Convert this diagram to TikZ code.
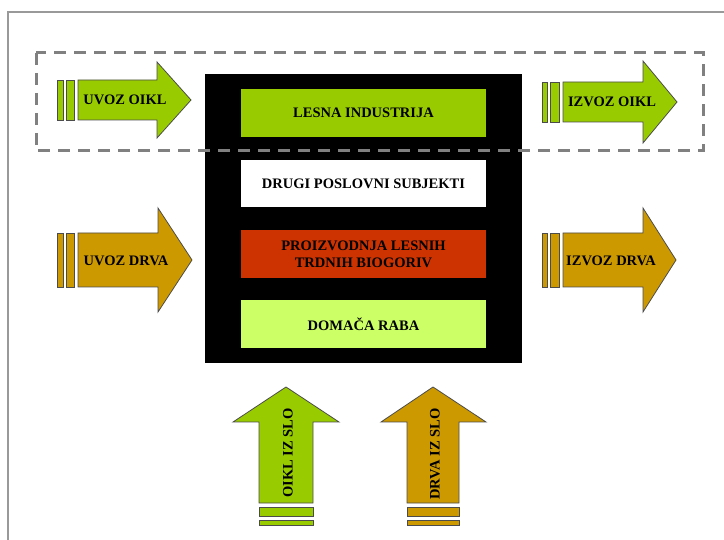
\documentclass[tikz,border=0pt]{standalone}
\usepackage{fontspec}
\setmainfont{Liberation Serif}
\definecolor{oikl}{HTML}{99CC00}
\definecolor{drva}{HTML}{CC9900}
\definecolor{rdeca}{HTML}{CC3300}
\definecolor{svetla}{HTML}{CCFF66}
\definecolor{okvir}{HTML}{808080}
\tikzset{
  arrowshape/.style={draw=black!70, line width=0.8pt},
  lbl/.style={font=\bfseries\fontsize{14.5}{16}\selectfont, text=black, inner sep=0pt},
  boxlbl/.style={font=\bfseries\fontsize{14.5}{17}\selectfont, text=black, inner sep=0pt, align=center},
  inbox/.style={draw=none},
}
\begin{document}
\begin{tikzpicture}[x=1pt, y=-1pt]
\useasboundingbox (0,0) rectangle (724,540);
% outer frame
\draw[black!40, line width=2pt] (8,540) -- (8,12) -- (724,12);

% central black box
\fill[black] (205,74) rectangle (522,363);
\fill[oikl]   (241,89)  rectangle (486,137);
\fill[white]  (241,160) rectangle (486,207);
\fill[rdeca]  (241,230) rectangle (486,278);
\fill[svetla] (241,300) rectangle (486,348);
\node[boxlbl] (lesna)  at (363.5,113) {LESNA INDUSTRIJA};
\node[boxlbl] (drugi)  at (363.5,184) {DRUGI POSLOVNI SUBJEKTI};
\node[boxlbl] (proiz)  at (363.5,254) {PROIZVODNJA LESNIH\\TRDNIH BIOGORIV};
\node[boxlbl] (domaca) at (363.5,324) {DOMAČA RABA};

% UVOZ OIKL (left, green)
\filldraw[arrowshape, fill=oikl] (57,80) rectangle (63,120);
\filldraw[arrowshape, fill=oikl] (66,80) rectangle (74,120);
\filldraw[arrowshape, fill=oikl] (78,80) -- (157,80) -- (157,62) -- (191,100) -- (157,138) -- (157,120) -- (78,120) -- cycle;
\node[lbl] (uvozoikl) at (125,100) {UVOZ OIKL};

% UVOZ DRVA (left, brown)
\filldraw[arrowshape, fill=drva] (57,233) rectangle (63,287);
\filldraw[arrowshape, fill=drva] (66,233) rectangle (74,287);
\filldraw[arrowshape, fill=drva] (78,233) -- (158,233) -- (158,208) -- (192,260) -- (158,312) -- (158,287) -- (78,287) -- cycle;
\node[lbl] (uvozdrva) at (126,261) {UVOZ DRVA};

% IZVOZ OIKL (right, green)
\filldraw[arrowshape, fill=oikl] (542,82) rectangle (547,122);
\filldraw[arrowshape, fill=oikl] (550,82) rectangle (559,122);
\filldraw[arrowshape, fill=oikl] (563,82) -- (643,82) -- (643,61) -- (677,102) -- (643,143) -- (643,122) -- (563,122) -- cycle;
\node[lbl] (izvozoikl) at (612,102) {IZVOZ OIKL};

% IZVOZ DRVA (right, brown)
\filldraw[arrowshape, fill=drva] (542,233) rectangle (547,287);
\filldraw[arrowshape, fill=drva] (550,233) rectangle (559,287);
\filldraw[arrowshape, fill=drva] (563,233) -- (643,233) -- (643,208) -- (676,260) -- (643,312) -- (643,287) -- (563,287) -- cycle;
\node[lbl] (izvozdrva) at (611,261) {IZVOZ DRVA};

% OIKL IZ SLO (up, green)
\filldraw[arrowshape, fill=oikl] (259,503) -- (259,422) -- (233,422) -- (286,387) -- (339,422) -- (313,422) -- (313,503) -- cycle;
\filldraw[arrowshape, fill=oikl] (259,507) rectangle (313,516);
\filldraw[arrowshape, fill=oikl] (259,520) rectangle (313,525);
\node[lbl, rotate=90] (oiklslo) at (288,453) {OIKL IZ SLO};

% DRVA IZ SLO (up, brown)
\filldraw[arrowshape, fill=drva] (407,503) -- (407,422) -- (381,422) -- (433,387) -- (486,422) -- (459,422) -- (459,503) -- cycle;
\filldraw[arrowshape, fill=drva] (407,507) rectangle (459,516);
\filldraw[arrowshape, fill=drva] (407,520) rectangle (459,525);
\node[lbl, rotate=90] (drvaslo) at (435,454) {DRVA IZ SLO};

% dashed grouping rectangle
\draw[okvir, line width=3pt, dash pattern=on 12pt off 8pt] (36,53) rectangle (703,151);
\end{tikzpicture}
\end{document}
